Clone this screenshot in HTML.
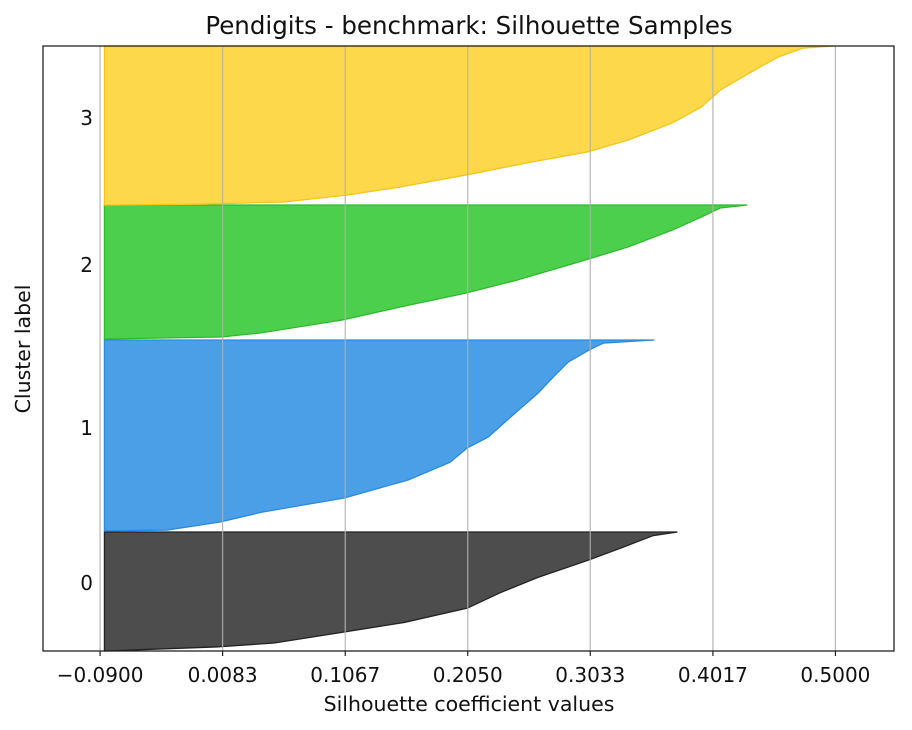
<!DOCTYPE html>
<html><head><meta charset="utf-8"><style>
body{margin:0;background:#fff;}
svg text{font-family:"DejaVu Sans","Liberation Sans",sans-serif;fill:#111;}
</style></head><body>
<svg id="chart" width="912" height="730" viewBox="0 0 912 730" xmlns="http://www.w3.org/2000/svg" style="position:absolute;left:0;top:0">
<rect width="912" height="730" fill="#fff"/>
<g id="fills"></g><g id="grid"></g><g id="axes"></g>
<text x="469" y="34" text-anchor="middle" font-size="24.5">Pendigits - benchmark: Silhouette Samples</text>
<text x="469" y="711" text-anchor="middle" font-size="20.5">Silhouette coefficient values</text>
<text x="0" y="0" transform="translate(30,349) rotate(-90)" text-anchor="middle" font-size="20.5">Cluster label</text>
</svg>
<script>
const clusterLabels=["0","1","2","3"];
const clusterLower=[0,120,312,446];
const clusterUpper=[119,311,446,605];
const yTickPos=[68,223,386,533];
const fills=["#4d4d4d","#4a9fe6","#4ccf4c","#fdd84a"];
const edges=["#222222","#2a8ae0","#2bbb2b","#f5c518"];
const xTicks=[-0.09,0.0083,0.1067,0.205,0.3033,0.4017,0.5];
const xTickLabels=["\u22120.0900","0.0083","0.1067","0.2050","0.3033","0.4017","0.5000"];
const baseValue=-0.0865;
const frac0=[0,0.034,0.067,0.16,0.24,0.36,0.49,0.62,0.76,0.87,0.97,1];
const vals0=[-0.086,0.0031,0.0497,0.1059,0.154,0.2046,0.2311,0.2616,0.3009,0.329,0.3539,0.3732];
const frac1=[0,0.005,0.047,0.099,0.173,0.267,0.36,0.435,0.492,0.618,0.723,0.806,0.885,0.948,0.984,1];
const vals1=[-0.086,-0.0362,0.0063,0.04,0.1059,0.1572,0.1909,0.2046,0.2214,0.2431,0.2616,0.2736,0.2857,0.3025,0.3138,0.3547];
const frac2=[0,0.015,0.045,0.142,0.239,0.343,0.44,0.567,0.687,0.813,0.91,0.978,1];
const vals2=[-0.0844,0.0071,0.0384,0.1043,0.1508,0.2038,0.2447,0.2913,0.3338,0.3691,0.3924,0.4077,0.4293];
const frac3=[0,0.005,0.019,0.063,0.113,0.189,0.264,0.333,0.409,0.516,0.616,0.723,0.83,0.931,0.987,1];
const vals3=[-0.0844,-0.0097,0.0577,0.1083,0.1508,0.2038,0.252,0.3009,0.3338,0.3691,0.3924,0.4077,0.4309,0.4542,0.4743,0.4992];
const fracs=[frac0,frac1,frac2,frac3], vals=[vals0,vals1,vals2,vals3];

const L=43,R=894,T=46,B=651;
const xMin=-0.1358,xMax=0.547,yMin=0,yMax=605;
const sx=v=>L+(v-xMin)/(xMax-xMin)*(R-L);
const sy=v=>B-(v-yMin)/(yMax-yMin)*(B-T);
const NS="http://www.w3.org/2000/svg";
function mk(tag,attrs,parent){const e=document.createElementNS(NS,tag);for(const k in attrs)e.setAttribute(k,attrs[k]);parent.appendChild(e);return e;}
const grid=document.getElementById('grid'),fg=document.getElementById('fills'),ax=document.getElementById('axes');
for(let c=0;c<4;c++){
  const lo=clusterLower[c],hi=clusterUpper[c];
  let d=`M${sx(baseValue)},${sy(lo)}`;
  fracs[c].forEach((f,i)=>{d+=` L${sx(vals[c][i])},${sy(lo+f*(hi-lo))}`;});
  d+=` L${sx(baseValue)},${sy(hi)} Z`;
  const p=mk('path',{d:d,fill:fills[c],stroke:edges[c],'stroke-width':1.3},fg);
  
  
}
xTicks.forEach((t,i)=>{
  const l=mk('line',{x1:sx(t),x2:sx(t),y1:T,y2:B,stroke:'#b0b0b0','stroke-width':1.3,'stroke-opacity':0.85},grid);
  
  
});
const frame=mk('rect',{x:L,y:T,width:R-L,height:B-T,fill:'none',stroke:'#222','stroke-width':1.3},ax);


xTicks.forEach((t,i)=>{
  mk('line',{x1:sx(t),x2:sx(t),y1:B,y2:B+5,stroke:'#222','stroke-width':1.2},ax);
  const tx=mk('text',{x:sx(t),y:B+31,'text-anchor':'middle','font-size':20},ax);
  tx.textContent=xTickLabels[i];
  
  
});
yTickPos.forEach((p,i)=>{
  const tx=mk('text',{x:93,y:sy(p)+7,'text-anchor':'end','font-size':20},ax);
  tx.textContent=clusterLabels[i];
  
  
});
</script>
</body></html>
